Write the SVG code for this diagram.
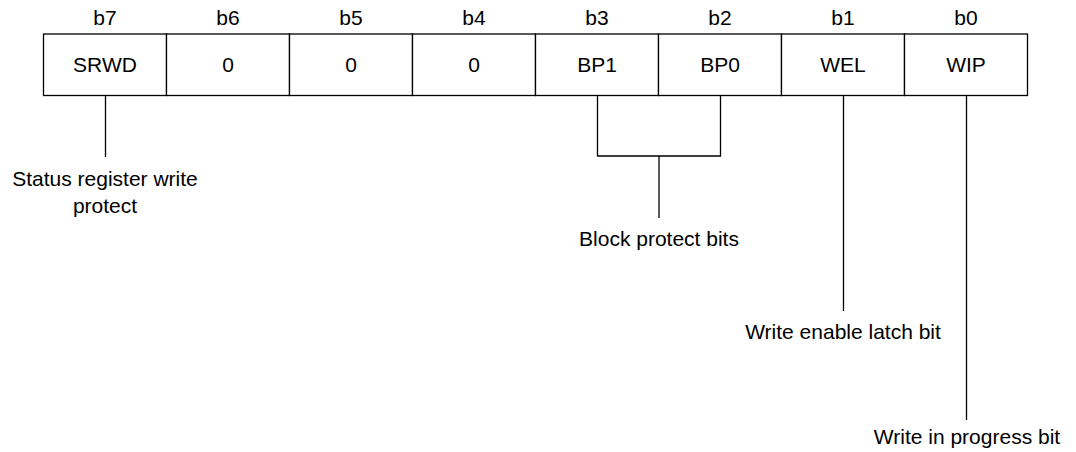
<svg xmlns="http://www.w3.org/2000/svg" width="1076" height="452" viewBox="0 0 1076 452">
<style>
text{font-family:"Liberation Sans",Arial,sans-serif;font-size:21px;fill:#000;text-anchor:middle}
.cell{fill:#fff;stroke:#000;stroke-width:1.3}
.ln{fill:none;stroke:#000;stroke-width:1.3}
</style>
<rect width="1076" height="452" fill="#fff"/>
<g id="bit7"><rect class="cell" x="43.5" y="34" width="123" height="61.5"/><text x="105" y="25">b7</text><text x="105" y="72">SRWD</text></g>
<g id="bit6"><rect class="cell" x="166.5" y="34" width="123" height="61.5"/><text x="228" y="25">b6</text><text x="228" y="72">0</text></g>
<g id="bit5"><rect class="cell" x="289.5" y="34" width="123" height="61.5"/><text x="351" y="25">b5</text><text x="351" y="72">0</text></g>
<g id="bit4"><rect class="cell" x="412.5" y="34" width="123" height="61.5"/><text x="474" y="25">b4</text><text x="474" y="72">0</text></g>
<g id="bit3"><rect class="cell" x="535.5" y="34" width="123" height="61.5"/><text x="597" y="25">b3</text><text x="597" y="72">BP1</text></g>
<g id="bit2"><rect class="cell" x="658.5" y="34" width="123" height="61.5"/><text x="720" y="25">b2</text><text x="720" y="72">BP0</text></g>
<g id="bit1"><rect class="cell" x="781.5" y="34" width="123" height="61.5"/><text x="843" y="25">b1</text><text x="843" y="72">WEL</text></g>
<g id="bit0"><rect class="cell" x="904.5" y="34" width="123" height="61.5"/><text x="966" y="25">b0</text><text x="966" y="72">WIP</text></g>
<g id="connectors">
<path class="ln" d="M105.5 95.5V157"/>
<path class="ln" d="M597.5 95.5V156H720.5V95.5M659 156V218"/>
<path class="ln" d="M843.5 95.5V311"/>
<path class="ln" d="M966.5 95.5V420"/>
</g>
<g id="label-srwd"><text x="105" y="186">Status register write</text><text x="105" y="213">protect</text></g>
<g id="label-bp"><text x="659" y="246">Block protect bits</text></g>
<g id="label-wel"><text x="843" y="339">Write enable latch bit</text></g>
<g id="label-wip"><text x="967" y="444">Write in progress bit</text></g>
</svg>
